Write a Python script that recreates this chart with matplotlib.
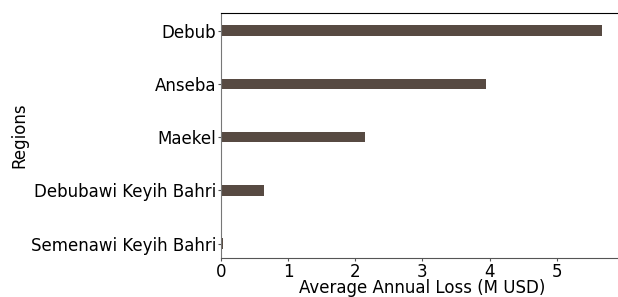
import matplotlib.pyplot as plt

# regiones y perdidas anuales promedio
regions = ['Semenawi Keyih Bahri', 'Debubawi Keyih Bahri', 'Maekel', 'Anseba', 'Debub']
loss = [0.03, 0.64, 2.14, 3.94, 5.67]

fig = plt.figure(figsize=(6.18, 2.97), dpi=100)
ax = fig.add_axes([0.3576, 0.1313, 0.652, 0.8249])

ax.barh(regions, loss, height=0.2, color='#574a42')

ax.set_xlim(0, 6.0)
ax.set_ylim(-0.27, 4.33)
ax.set_xticks([0, 1, 2, 3, 4, 5])

ax.spines['left'].set_color('#777777')
ax.spines['bottom'].set_color('#555555')
ax.spines['right'].set_visible(False)
ax.spines['top'].set_color('black')

ax.tick_params(axis='y', labelsize=12, length=2.5, pad=1, color='#555555')
ax.tick_params(axis='x', labelsize=12, length=2.5, pad=1, color='#555555')
ax.set_xlabel('Average Annual Loss (M USD)', fontsize=12, labelpad=-1)
ax.set_ylabel('Regions', fontsize=12, labelpad=2)

fig.savefig('out.png')
